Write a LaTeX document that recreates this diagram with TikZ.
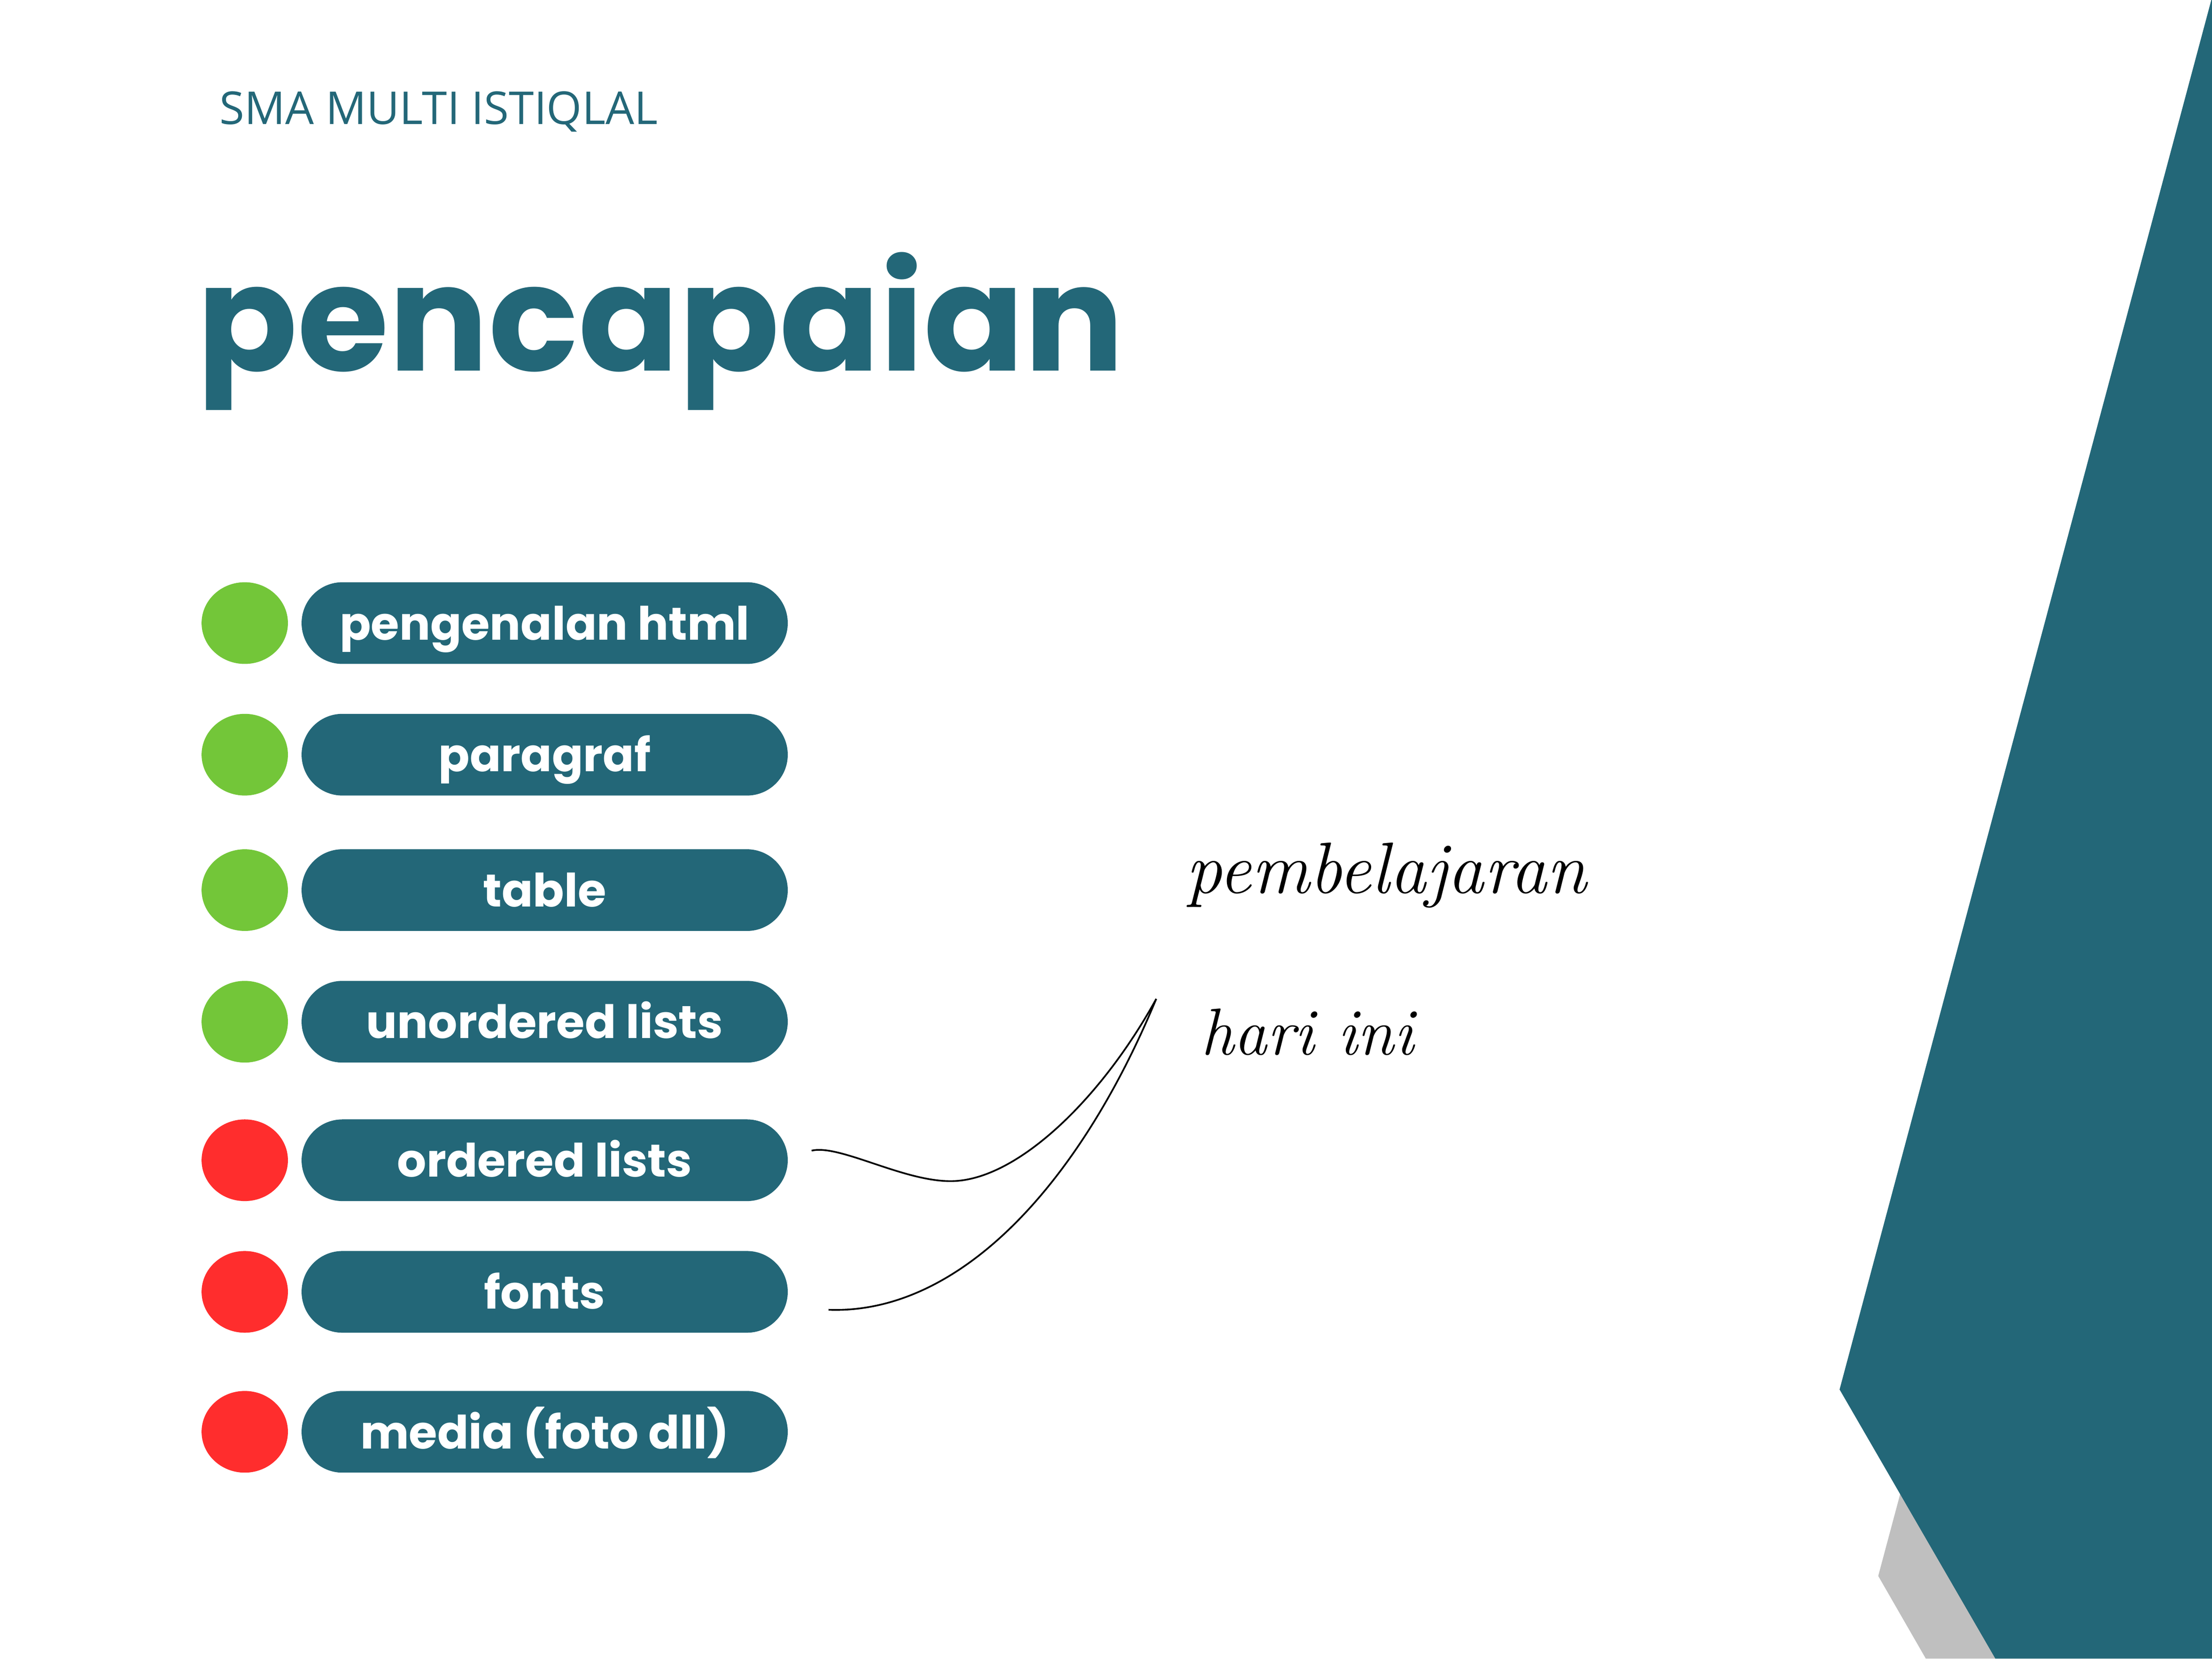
\documentclass[tikz,border=0pt]{standalone}
\usepackage{fontspec}
\usetikzlibrary{shapes.geometric}
\newfontfamily\popfont{Poppins}
\newfontfamily\opensans{Open Sans}
\definecolor{tealc}{HTML}{236778}
\definecolor{dotgreen}{HTML}{73C639}
\definecolor{dotred}{HTML}{FF2D2D}
\definecolor{shadowgray}{HTML}{BFBFBF}
\begin{document}
\begin{tikzpicture}[x=1pt,y=-1pt,
  pill/.style={fill=tealc, rounded corners=28.9pt, minimum width=344.6pt, minimum height=57.9pt,
    inner sep=0pt, text=white, font=\popfont\bfseries\fontsize{32.6}{36}\selectfont,
    text height=25pt, text depth=1.2pt},
  dot/.style={ellipse, minimum width=61.2pt, minimum height=57.9pt, inner sep=0pt},
  script/.style={anchor=base west, inner sep=0pt},
  link/.style={black, line width=1.2pt}]
\useasboundingbox (0,0) rectangle (1568,1175.75);
\fill[white] (0,0) rectangle (1568,1175.75);
% background shapes
\fill[shadowgray] (1331.4,1117.2) -- (1411.7,817.2) -- (1568,817.2) -- (1568,1175.75) -- (1365.1,1175.75) -- cycle;
\fill[tealc] (1567.5,0) -- (1304,985) -- (1414.4,1175.75) -- (1568,1175.75) -- (1568,0) -- cycle;
% headings
\node[anchor=base west, inner sep=0pt, text=tealc, font=\opensans\fontsize{32.1}{36}\selectfont] (school) at (155.4,88.2) {SMA MULTI ISTIQLAL};
\node[anchor=base west, inner sep=0pt, text=tealc, font=\popfont\bfseries\fontsize{105}{120}\selectfont] (title) at (139.5,262.8) {pencapaian};
% list
\node[dot, fill=dotgreen] (b1) at (173.5,441.7) {};
\node[dot, fill=dotgreen] (b2) at (173.5,535) {};
\node[dot, fill=dotgreen] (b3) at (173.5,631) {};
\node[dot, fill=dotgreen] (b4) at (173.5,724.3) {};
\node[dot, fill=dotred] (b5) at (173.5,822.5) {};
\node[dot, fill=dotred] (b6) at (173.5,915.8) {};
\node[dot, fill=dotred] (b7) at (173.5,1015) {};
\node[pill] (p1) at (386.1,441.7) {pengenalan html};
\node[pill] (p2) at (386.1,535) {paragraf};
\node[pill] (p3) at (386.1,631) {table};
\node[pill] (p4) at (386.1,724.3) {unordered lists};
\node[pill] (p5) at (386.1,822.5) {ordered lists};
\node[pill] (p6) at (386.1,915.8) {fonts};
\node[pill] (p7) at (386.1,1015) {media (foto dll)};
% script text
\node[script, font=\itshape\fontsize{51.5}{58}\selectfont] (learn) at (840.5,633) {pembelajaran};
\node[script, font=\itshape\fontsize{47}{56}\selectfont] (today) at (851,747.6) {hari ini};
% connectors
\coordinate (s1) at (575.3,815.7);
\coordinate (s2) at (587.3,928.5);
\coordinate (m1) at (674,837.3);
\coordinate (tip) at (819.6,708.1);
\draw[link] (s1) .. controls (595,811) and (640,837.5) .. (m1) .. controls (720,837.3) and (780,780) .. (tip);
\draw[link] (s2) .. controls (680,932) and (765,840) .. (tip);
\end{tikzpicture}
\end{document}
